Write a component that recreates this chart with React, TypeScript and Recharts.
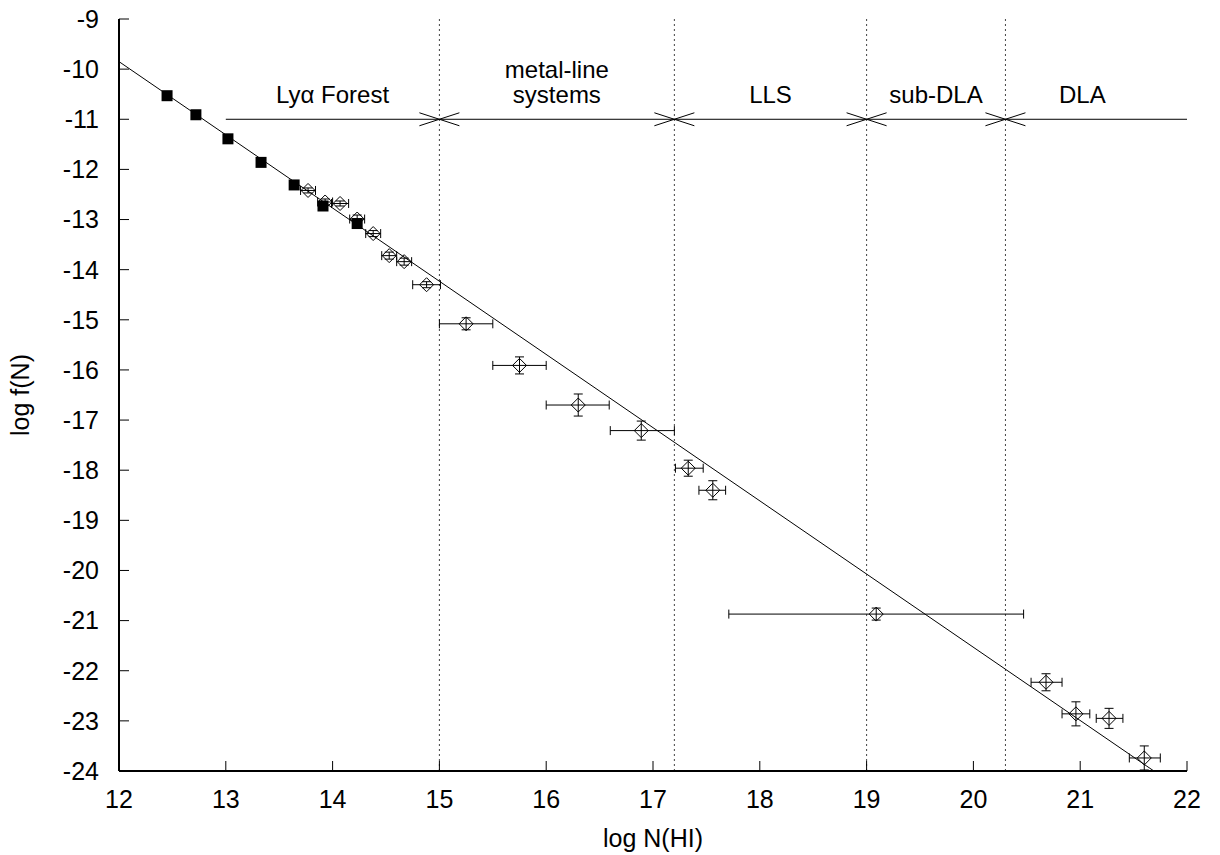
import React from "react";
import {
  ScatterChart,
  Scatter,
  XAxis,
  YAxis,
  ReferenceLine,
  ErrorBar,
} from "recharts";

const FONT = "'Liberation Sans', Arial, Helvetica, sans-serif";

const X_TICKS = [12, 13, 14, 15, 16, 17, 18, 19, 20, 21, 22];
const Y_TICKS = [-9, -10, -11, -12, -13, -14, -15, -16, -17, -18, -19, -20, -21, -22, -23, -24];

// filled squares (Lya forest sample)
const FOREST_POINTS = [
  { x: 12.45, y: -10.53 },
  { x: 12.72, y: -10.91 },
  { x: 13.02, y: -11.39 },
  { x: 13.33, y: -11.86 },
  { x: 13.64, y: -12.31 },
  { x: 13.91, y: -12.73 },
  { x: 14.23, y: -13.08 },
]

// open diamonds, errors as [low, high]
const BIN_POINTS = [
  { x: 13.77, y: -12.42, ex: [0.07, 0.07], ey: 0.05 },
  { x: 13.93, y: -12.65, ex: [0.07, 0.07], ey: 0.06 },
  { x: 14.07, y: -12.68, ex: [0.08, 0.08], ey: 0.05 },
  { x: 14.23, y: -12.99, ex: [0.07, 0.07], ey: 0.08 },
  { x: 14.38, y: -13.28, ex: [0.07, 0.07], ey: 0.06 },
  { x: 14.53, y: -13.72, ex: [0.07, 0.07], ey: 0.07 },
  { x: 14.67, y: -13.84, ex: [0.07, 0.07], ey: 0.07 },
  { x: 14.88, y: -14.3, ex: [0.13, 0.13], ey: 0.06 },
  { x: 15.25, y: -15.08, ex: [0.25, 0.25], ey: 0.12 },
  { x: 15.75, y: -15.91, ex: [0.25, 0.25], ey: 0.17 },
  { x: 16.3, y: -16.7, ex: [0.3, 0.29], ey: 0.22 },
  { x: 16.89, y: -17.21, ex: [0.29, 0.31], ey: 0.19 },
  { x: 17.33, y: -17.96, ex: [0.12, 0.14], ey: 0.16 },
  { x: 17.56, y: -18.4, ex: [0.13, 0.12], ey: 0.19 },
  { x: 19.09, y: -20.87, ex: [1.38, 1.38], ey: 0.12 },
  { x: 20.68, y: -22.23, ex: [0.14, 0.15], ey: 0.17 },
  { x: 20.96, y: -22.86, ex: [0.13, 0.13], ey: 0.24 },
  { x: 21.27, y: -22.95, ex: [0.12, 0.13], ey: 0.2 },
  { x: 21.6, y: -23.74, ex: [0.14, 0.15], ey: 0.24 },
]

// power-law fit, end points
const FIT_LINE = [
  { x: 12, y: -9.85 },
  { x: 21.69, y: -24 },
]

const BOUNDARIES = [15, 17.2, 19, 20.3]
const SPAN_START = 13
const SPAN_END = 22
const SPAN_LEVEL = -11

const REGION_LABELS = [
  { x: 14, y: -10.67, lines: ["Lyα Forest"] },
  { x: 16.1, y: -10.67, lines: ["metal-line", "systems"] },
  { x: 18.1, y: -10.67, lines: ["LLS"] },
  { x: 19.65, y: -10.67, lines: ["sub-DLA"] },
  { x: 21.02, y: -10.67, lines: ["DLA"] },
]

const BOUNDARY_MARKS = BOUNDARIES.map((b) => ({ x: b, y: SPAN_LEVEL }))

const tickStyle = { fontSize: 25, fill: "#000", fontFamily: FONT }
const axisLine = { stroke: "#000", strokeWidth: 2 }

const Square = (p: any) => (
  <rect x={p.cx - 5.5} y={p.cy - 5.5} width={11} height={11} fill="#000" />
)

const Diamond = (p: any) => (
  <polygon
    points={`${p.cx},${p.cy - 7} ${p.cx + 7},${p.cy} ${p.cx},${p.cy + 7} ${p.cx - 7},${p.cy}`}
    fill="none"
    stroke="#000"
    strokeWidth={1}
  />
)

const Cross = (p: any) => (
  <path
    d={`M${p.cx - 20},${p.cy - 6.5} L${p.cx},${p.cy} L${p.cx - 20},${p.cy + 6.5} M${p.cx + 20},${p.cy - 6.5} L${p.cx},${p.cy} L${p.cx + 20},${p.cy + 6.5}`}
    fill="none"
    stroke="#000"
    strokeWidth={1}
  />
)

const RegionLabel = (p: any) => {
  const lines: string[] = p.payload.lines
  return (
    <text textAnchor="middle" fontSize={24} fontFamily={FONT} fill="#000">
      {lines.map((l, i) => (
        <tspan key={i} x={p.cx} y={p.cy - (lines.length - 1 - i) * 25}>
          {l}
        </tspan>
      ))}
    </text>
  )
}

const Nothing = () => <g />

export default function App() {
  return (
    <div style={{ position: "absolute", left: 0, top: 0, background: "#fff" }}>
      <ScatterChart
        width={1220}
        height={855}
        margin={{ top: 19, right: 33, bottom: 44, left: 39 }}
      >
        <XAxis
          type="number"
          dataKey="x"
          domain={[12, 22]}
          ticks={X_TICKS}
          interval={0}
          height={40}
          tickSize={-10}
          tickMargin={29}
          tick={tickStyle}
          axisLine={axisLine}
          tickLine={{ stroke: "#000" }}
          label={(props: any) => {
            const vb = props.viewBox
            return (
              <text
                x={vb.x + vb.width / 2}
                y={847}
                textAnchor="middle"
                fontSize={25}
                fontFamily={FONT}
                fill="#000"
              >
                log N(HI)
              </text>
            )
          }}
        />
        <XAxis
          xAxisId="top"
          orientation="top"
          type="number"
          dataKey="x"
          domain={[12, 22]}
          ticks={X_TICKS}
          interval={0}
          height={0}
          tickSize={-10}
          tick={false}
          axisLine={axisLine}
          tickLine={{ stroke: "#000" }}
        />
        <YAxis
          type="number"
          dataKey="y"
          domain={[-24, -9]}
          ticks={Y_TICKS}
          interval={0}
          width={80}
          tickSize={-10}
          tickMargin={30}
          tick={tickStyle}
          axisLine={axisLine}
          tickLine={{ stroke: "#000" }}
          label={(props: any) => {
            const vb = props.viewBox
            const cy = vb.y + vb.height / 2
            return (
              <text
                x={29}
                y={cy}
                textAnchor="middle"
                fontSize={25}
                fontFamily={FONT}
                fill="#000"
                transform={`rotate(-90, 29, ${cy})`}
              >
                log f(N)
              </text>
            )
          }}
        />
        <YAxis
          yAxisId="right"
          orientation="right"
          type="number"
          dataKey="y"
          domain={[-24, -9]}
          ticks={Y_TICKS}
          interval={0}
          width={0}
          tickSize={-10}
          tick={false}
          axisLine={axisLine}
          tickLine={{ stroke: "#000" }}
        />

        {BOUNDARIES.map((b) => (
          <ReferenceLine key={b} x={b} stroke="#444" strokeWidth={1} strokeDasharray="2 3" />
        ))}
        <ReferenceLine
          segment={[
            { x: SPAN_START, y: SPAN_LEVEL },
            { x: SPAN_END, y: SPAN_LEVEL },
          ]}
          stroke="#000"
          strokeWidth={1}
        />

        <Scatter
          data={FIT_LINE}
          line={{ stroke: "#000", strokeWidth: 1 }}
          shape={Nothing}
          legendType="none"
          isAnimationActive={false}
        />
        <Scatter data={FOREST_POINTS} shape={Square} isAnimationActive={false} />
        <Scatter data={BIN_POINTS} shape={Diamond} isAnimationActive={false}>
          <ErrorBar dataKey="ex" direction="x" width={4.5} stroke="#000" strokeWidth={1} isAnimationActive={false} />
          <ErrorBar dataKey="ey" direction="y" width={4.5} stroke="#000" strokeWidth={1} isAnimationActive={false} />
        </Scatter>
        <Scatter data={BOUNDARY_MARKS} shape={Cross} isAnimationActive={false} />
        <Scatter data={REGION_LABELS} shape={RegionLabel} isAnimationActive={false} />
      </ScatterChart>
    </div>
  )
}
